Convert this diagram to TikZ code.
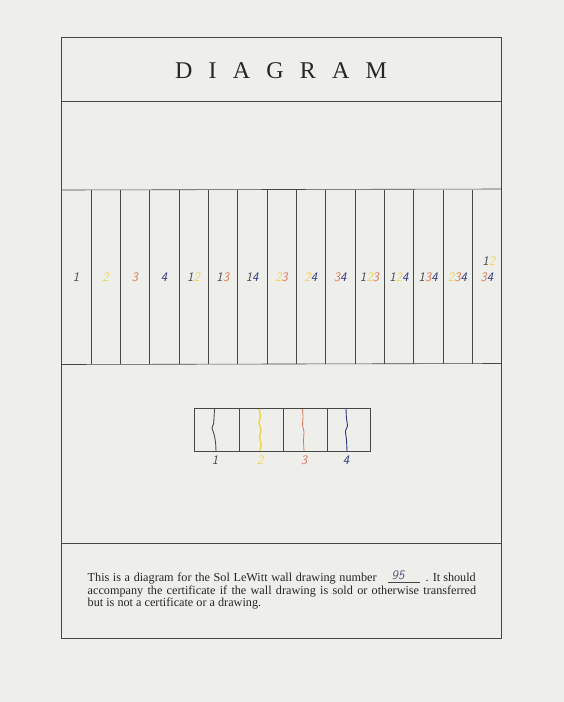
\documentclass[tikz,border=0pt]{standalone}
\usepackage{fontspec}
\setmainfont{Liberation Serif}
\newfontfamily\handfont{Latin Modern Sans}
\definecolor{paper}{RGB}{238,238,234}
\definecolor{ink}{RGB}{70,70,70}
\definecolor{cone}{RGB}{75,75,80}
\definecolor{ctwo}{RGB}{238,214,90}
\definecolor{cthree}{RGB}{222,120,90}
\definecolor{cfour}{RGB}{45,55,125}
\newcommand\hdA{\textcolor{cone}{1}}
\newcommand\hdB{\textcolor{ctwo}{2}}
\newcommand\hdC{\textcolor{cthree}{3}}
\newcommand\hdD{\textcolor{cfour}{4}}
\newcommand\tsp{\hspace{16.2pt}}
\tikzset{
  frame/.style={draw=ink, line width=0.9pt},
  thin/.style={draw=ink, line width=0.6pt},
  hand/.style={font=\handfont\itshape\fontsize{13}{13}\selectfont, inner sep=0pt, anchor=base},
  title/.style={font=\fontsize{24}{24}\selectfont, inner sep=0pt, anchor=base, text=black!85},
  body/.style={font=\fontsize{12.2}{12.5}\selectfont, inner sep=0pt, anchor=base west, text=black!85},
}
\begin{document}
\begin{tikzpicture}[x=1pt,y=-1pt]
\fill[paper] (0,0) rectangle (564,702);
\useasboundingbox (0,0) rectangle (564,702);
% outer frame and separators
\draw[frame] (61.5,37) rectangle (501.5,638.5);
\draw[frame] (61.5,101) -- (501.5,101);
\draw[frame] (61.5,543) -- (501.5,543);
% title
\node[title] (title) at (281,78) {D\tsp I\tsp A\tsp G\tsp R\tsp A\tsp M};
% strip
\draw[thin] (61.5,190) -- (501.5,189);
\draw[thin] (61.5,364.5) -- (501.5,363.5);
\foreach \i in {1,...,14}
  \draw[thin] ({61.5+29.333*\i},190) -- ({61.5+29.333*\i},364);
% labels in strip
\foreach \lab [count=\i from 0] in {\hdA,\hdB,\hdC,\hdD,\hdA\hdB,\hdA\hdC,\hdA\hdD,\hdB\hdC,\hdB\hdD,\hdC\hdD,\hdA\hdB\hdC,\hdA\hdB\hdD,\hdA\hdC\hdD,\hdB\hdC\hdD}
  \node[hand] (s\i) at ({61.5+29.333*(\i+0.5)},281) {\lab};
\node[hand] (s14a) at ({61.5+29.333*14.5+2},265) {\hdA\hdB};
\node[hand] (s14b) at ({61.5+29.333*14.5},281) {\hdC\hdD};
% small diagram
\draw[thin] (194,408.5) rectangle (370.5,451);
\foreach \xx in {239,283,327}
  \draw[thin] (\xx,408.5) -- (\xx,451);
\draw[cone, line width=0.9pt] plot[smooth] coordinates {(214.5,409) (214,418) (213.5,424) (212,428) (214,434) (215.5,442) (216,451)};
\draw[ctwo, line width=1.6pt] plot[smooth] coordinates {(259,409) (260.5,416) (259,423) (261,430) (259.5,437) (261,444) (260,451)};
\draw[cthree, line width=0.8pt] plot[smooth] coordinates {(302.5,409) (303,417) (302.5,425) (304,432) (303.5,440) (304,451)};
\draw[cfour, line width=0.9pt] plot[smooth] coordinates {(346,409) (346.5,419) (347.5,426) (345.5,431) (346.5,440) (347,451)};
\node[hand] (k1) at (215,464) {\hdA};
\node[hand] (k2) at (260,464) {\hdB};
\node[hand] (k3) at (304,464) {\hdC};
\node[hand] (k4) at (346,464) {\hdD};
% text
\node[body] (t1) at (87.5,581.5) {\makebox[289pt][s]{This is a diagram for the Sol LeWitt wall drawing number}};
\draw[ink, line width=0.5pt] (388,582) -- (420,582);
\node[hand, text=cfour!55!gray, font=\handfont\itshape\fontsize{13}{13}\selectfont] (n95) at (398,579.5) {95};
\node[body, anchor=base east] (t1b) at (476,581.5) {. It should};
\node[body] (t2) at (87.5,594) {\makebox[388.5pt][s]{accompany the certificate if the wall drawing is sold or otherwise transferred}};
\node[body] (t3) at (87.5,606.5) {but is not a certificate or a drawing.};
\end{tikzpicture}
\end{document}
